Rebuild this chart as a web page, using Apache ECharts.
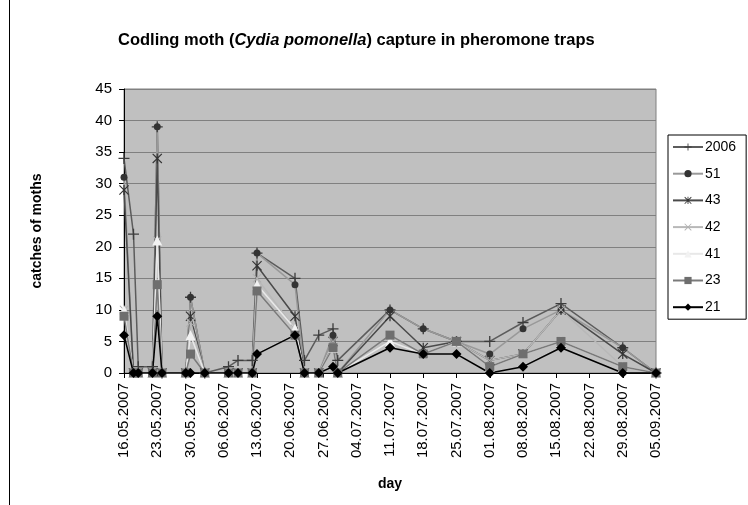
<!DOCTYPE html>
<html lang="en">
<head>
  <meta charset="UTF-8">
  <title>Codling moth capture</title>
  <style type="text/css">
    html, body { margin: 0; padding: 0; background: #fff; }
    #main { width: 748px; height: 505px; }
  </style>
</head>
<body>
  <div id="main"></div>
  <script type="text/javascript" src="https://cdn.jsdelivr.net/npm/echarts@6/dist/echarts.min.js"></script>
  <script type="text/javascript">
    // sampling dates (dd.mm.yyyy)
    var dates = ['16.05.2007', '18.05.2007', '19.05.2007', '22.05.2007', '23.05.2007', '24.05.2007',
      '29.05.2007', '30.05.2007', '02.06.2007', '07.06.2007', '09.06.2007', '12.06.2007', '13.06.2007',
      '21.06.2007', '23.06.2007', '26.06.2007', '29.06.2007', '30.06.2007', '11.07.2007', '18.07.2007',
      '25.07.2007', '01.08.2007', '08.08.2007', '16.08.2007', '29.08.2007', '05.09.2007'];

    var trap2006 = [34, 22, 1, 1, 39, 0, 0, 12, 0, 1, 2, 2, 19, 15, 2, 6, 7, 2, 10, 7, 5, 5, 8, 11, 4, 0];
    var trap51 = [31, 0, 0, 0, 39, 0, 0, 12, 0, 0, 0, 0, 19, 14, 0, 0, 6, 0, 10, 7, 5, 3, 7, 10, 4, 0];
    var trap43 = [29, 0, 0, 0, 34, 0, 0, 9, 0, 0, 0, 0, 17, 9, 0, 0, 5, 0, 9, 4, 5, 2, 3, 10, 3, 0];
    var trap42 = [10, 0, 0, 0, 21, 0, 0, 8, 0, 0, 0, 0, 15, 7, 0, 0, 5, 0, 6, 3, 5, 2, 3, 10, 1, 0];
    var trap41 = [10, 0, 0, 0, 21, 0, 0, 6, 0, 0, 0, 0, 14, 7, 0, 0, 4, 0, 5, 3, 5, 1, 3, 5, 1, 0];
    var trap23 = [9, 0, 0, 0, 14, 0, 0, 3, 0, 0, 0, 0, 13, 6, 0, 0, 4, 0, 6, 3, 5, 1, 3, 5, 1, 0];
    var trap21 = [6, 0, 0, 0, 9, 0, 0, 0, 0, 0, 0, 0, 3, 6, 0, 0, 1, 0, 4, 3, 3, 0, 1, 4, 0, 0];

    var tickLabels = ['16.05.2007', '23.05.2007', '30.05.2007', '06.06.2007', '13.06.2007', '20.06.2007',
      '27.06.2007', '04.07.2007', '11.07.2007', '18.07.2007', '25.07.2007', '01.08.2007', '08.08.2007',
      '15.08.2007', '22.08.2007', '29.08.2007', '05.09.2007'];

    // days since first tick
    function toDay(s) {
      var p = s.split('.');
      var t = Date.UTC(+p[2], +p[1] - 1, +p[0]);
      var p0 = tickLabels[0].split('.');
      var t0 = Date.UTC(+p0[2], +p0[1] - 1, +p0[0]);
      return Math.round((t - t0) / 86400000);
    }
    var days = dates.map(toDay);

    function pairs(vals) {
      return vals.map(function (v, i) { return [days[i], v]; });
    }

    // marker shapes
    var plusSym = 'path://M0,4.4H10V5.6H0Z M4.4,0H5.6V10H4.4Z';
    var crossSym = 'path://M0.8,0L5,4.2L9.2,0L10,0.8L5.8,5L10,9.2L9.2,10L5,5.8L0.8,10L0,9.2L4.2,5L0,0.8Z';
    var starSym = 'path://M0.8,0L5,4.2L9.2,0L10,0.8L5.8,5L10,9.2L9.2,10L5,5.8L0.8,10L0,9.2L4.2,5L0,0.8Z M4.4,0H5.6V10H4.4Z';

    function makeSeries(name, vals, lineColor, markColor, symbol, size) {
      return {
        name: name,
        type: 'line',
        data: pairs(vals),
        symbol: symbol,
        symbolSize: size,
        showAllSymbol: true,
        animation: false,
        lineStyle: { color: lineColor, width: 1.5 },
        itemStyle: { color: markColor, borderWidth: 0 },
        emphasis: { disabled: true }
      };
    }

    var myChart = echarts.init(document.getElementById('main'));
    var option = {
      animation: false,
      title: {
        text: '{b|Codling moth (}{i|Cydia pomonella}{b|) capture in pheromone traps}',
        left: 113,
        top: 27,
        textStyle: {
          rich: {
            b: { fontFamily: 'Liberation Sans', fontSize: 16.5, fontWeight: 'bold', color: '#000' },
            i: { fontFamily: 'Liberation Sans', fontSize: 16.5, fontStyle: 'italic', color: '#000' }
          }
        }
      },
      legend: {
        orient: 'vertical',
        left: 668,
        top: 135,
        padding: [5, 10, 5, 4],
        itemGap: 12.7,
        itemWidth: 30,
        itemHeight: 9,
        borderColor: '#000',
        borderWidth: 1,
        backgroundColor: '#fff',
        textStyle: { fontFamily: 'Liberation Sans', fontSize: 14, color: '#000', padding: [0, 0, 0, -3] },
        data: ['2006', '51', '43', '42', '41', '23', '21']
      },
      grid: {
        left: 124,
        right: 92,
        top: 89,
        bottom: 132,
        show: true,
        backgroundColor: '#c0c0c0',
        borderColor: '#808080',
        borderWidth: 1
      },
      xAxis: {
        type: 'value',
        min: 0,
        max: 112,
        interval: 7,
        name: 'day',
        nameLocation: 'middle',
        nameGap: 104,
        nameTextStyle: { fontFamily: 'Liberation Sans', fontSize: 14, fontWeight: 'bold', color: '#000' },
        axisLine: { show: true, lineStyle: { color: '#000', width: 1 } },
        axisTick: { show: true, length: 5, lineStyle: { color: '#000' } },
        axisLabel: {
          rotate: 90,
          margin: 10,
          fontFamily: 'Liberation Sans',
          fontSize: 15,
          color: '#000',
          formatter: function (v) { return tickLabels[Math.round(v / 7)] || ''; }
        },
        splitLine: { show: false }
      },
      yAxis: {
        type: 'value',
        min: 0,
        max: 45,
        interval: 5,
        name: 'catches of moths',
        nameLocation: 'middle',
        nameGap: 80,
        nameTextStyle: { fontFamily: 'Liberation Sans', fontSize: 14, fontWeight: 'bold', color: '#000' },
        axisLine: { show: true, lineStyle: { color: '#000', width: 1 } },
        axisTick: { show: true, length: 5, lineStyle: { color: '#000' } },
        axisLabel: { margin: 12, fontFamily: 'Liberation Sans', fontSize: 15, color: '#000' },
        splitLine: { show: true, lineStyle: { color: '#808080', width: 1 } }
      },
      series: [
        makeSeries('2006', trap2006, '#5c5c5c', '#3c3c3c', plusSym, 11),
        makeSeries('51', trap51, '#999999', '#333333', 'circle', 7),
        makeSeries('43', trap43, '#4a4a4a', '#333333', starSym, 10),
        makeSeries('42', trap42, '#b8b8b8', '#b0b0b0', crossSym, 9),
        makeSeries('41', trap41, '#e8e8e8', '#f2f2f2', 'triangle', 10),
        makeSeries('23', trap23, '#7a7a7a', '#6e6e6e', 'rect', 9),
        makeSeries('21', trap21, '#000000', '#000000', 'diamond', 10)
      ],
      graphic: [{
        type: 'line',
        shape: { x1: 9.5, y1: 0, x2: 9.5, y2: 505 },
        style: { stroke: '#000', lineWidth: 1 }
      }]
    };
    myChart.setOption(option);
  </script>
</body>
</html>
